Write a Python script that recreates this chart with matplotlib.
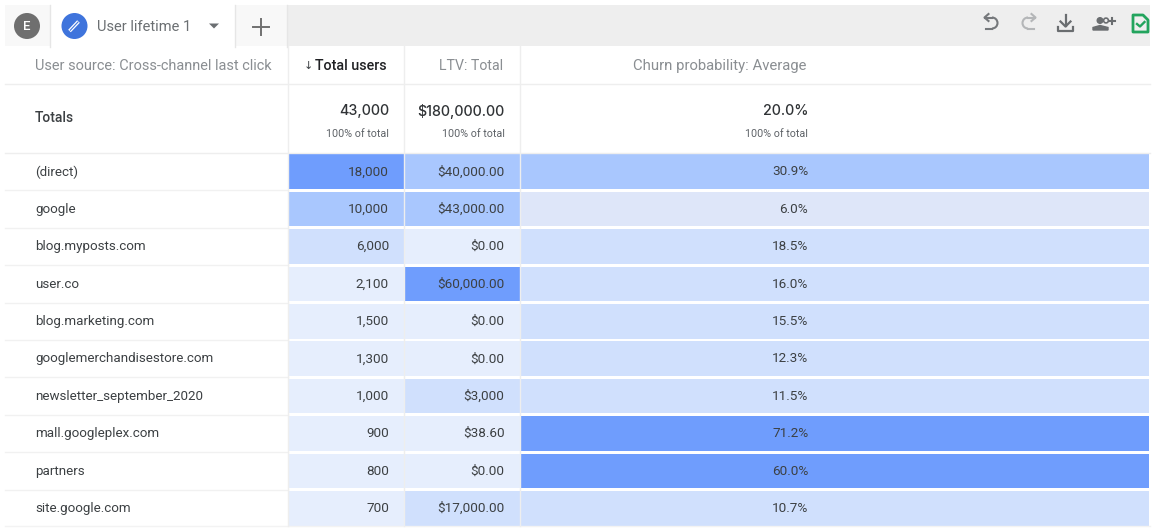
import matplotlib
matplotlib.use("Agg")
import matplotlib.pyplot as plt
from matplotlib.patches import Rectangle, Circle, Polygon, Arc

plt.rcParams['font.family'] = ['Roboto', 'DejaVu Sans']

# ---- data ----
sources = ["(direct)", "google", "blog.myposts.com", "user.co", "blog.marketing.com",
           "googlemerchandisestore.com", "newsletter_september_2020",
           "mall.googleplex.com", "partners", "site.google.com"]
total_users = ["18,000", "10,000", "6,000", "2,100", "1,500", "1,300", "1,000", "900", "800", "700"]
ltv = ["$40,000.00", "$43,000.00", "$0.00", "$60,000.00", "$0.00", "$0.00", "$3,000",
       "$38.60", "$0.00", "$17,000.00"]
churn = ["30.9%", "6.0%", "18.5%", "16.0%", "15.5%", "12.3%", "11.5%", "71.2%", "60.0%", "10.7%"]
users_level = [4, 3, 2, 1, 1, 1, 1, 1, 1, 1]
ltv_level = [3, 3, 1, 4, 1, 1, 2, 1, 1, 2]
churn_level = [3, 0, 2, 2, 2, 2, 2, 4, 4, 2]
headers = ["User source: Cross-channel last click", "Total users", "LTV: Total", "Churn probability: Average"]
totals = ["43,000", "$180,000.00", "20.0%"]
share = "100% of total"
tab_title = "User lifetime 1"
palette = {0: "#dee6f9", 1: "#e6eefd", 2: "#d0e0fd", 3: "#a9c7fe", 4: "#6f9dfd"}

fig = plt.figure(figsize=(11.6, 5.31), dpi=100, facecolor="white")
ax = fig.add_axes([0, 0, 1, 1])
ax.set_xlim(0, 1160)
ax.set_ylim(531, 0)
ax.axis("off")

GRID = "#eeeeee"
DARK = "#3c4043"
GREY = "#8a8e92"
ICON = "#6a6d70"
ROW_TOP, ROW_STEP, ROW_H = 154.4, 37.4, 34.6
COLS = [(288.8, 114.7, 389), (404.8, 114.7, 504.5), (521.3, 628, 808.3)]

# tab bar
ax.add_patch(Rectangle((5, 5), 45, 41, fc="#f8f8f8", ec="none"))
ax.add_patch(Rectangle((235, 5), 52, 41, fc="#f8f8f8", ec="none"))
ax.add_patch(Rectangle((287, 5), 863, 41, fc="#eeeeee", ec="none"))
for x in (49.8, 234.8, 286.5):
    ax.plot([x, x], [5, 47], color="#e6e6e6", lw=1)
ax.add_patch(Circle((27, 26), 13, fc="#6f6f6f", ec="none"))
ax.text(27, 26.3, "E", color="white", fontsize=9.5, ha="center", va="center", fontweight="medium")
ax.add_patch(Circle((74.5, 26), 13, fc="#3f74dc", ec="none"))
ax.plot([69.5, 78.5], [31, 21.5], color="white", lw=2.6, solid_capstyle="butt")
ax.plot([70.3, 78], [30.2, 22], color="#3f74dc", lw=0.8)
ax.text(97, 27.3, tab_title, color="#6b6f72", fontsize=10.5, ha="left", va="center")
ax.add_patch(Polygon([[209, 23.5], [219, 23.5], [214, 28.5]], fc="#6b6f72", ec="none"))
ax.plot([260.5, 260.5], [19, 35], color="#707070", lw=1.4)
ax.plot([252.5, 268.5], [27, 27], color="#707070", lw=1.4)

# toolbar icons
def undo(cx, col, flip):
    s = -1 if flip else 1
    ax.add_patch(Arc((cx, 23), 11, 11, theta1=-90 if not flip else 90, theta2=90 if not flip else 270,
                     color=col, lw=1.5))
    ax.plot([cx - s * 7, cx], [17.5, 17.5], color=col, lw=1.5)
    ax.plot([cx, cx - s * 6], [28.5, 28.5], color=col, lw=1.5)
    ax.plot([cx - s * 3.5, cx - s * 7.5, cx - s * 3.5], [14, 17.5, 21], color=col, lw=1.5)
undo(992, "#75787b", False)
undo(1028, "#b4b6b8", True)
ax.plot([1065.5, 1065.5], [15, 26], color=ICON, lw=1.6)
ax.plot([1060.5, 1065.5, 1070.5], [21.5, 26.5, 21.5], color=ICON, lw=1.6)
ax.plot([1058, 1058, 1073, 1073], [27, 31, 31, 27], color=ICON, lw=1.6)
ax.add_patch(Circle((1100, 20.5), 2.8, fc=ICON, ec=ICON, lw=1))
ax.add_patch(Circle((1106, 20.5), 2.4, fc="none", ec=ICON, lw=1.2))
ax.add_patch(Polygon([[1093, 30], [1093, 27.5], [1100, 25.5], [1108, 27.5], [1108, 30]], fc=ICON, ec=ICON, lw=1))
ax.plot([1109, 1115], [20.5, 20.5], color=ICON, lw=1.5)
ax.plot([1112, 1112], [17.5, 23.5], color=ICON, lw=1.5)
ax.add_patch(Polygon([[1133, 15], [1143, 15], [1148, 20], [1148, 32], [1133, 32]], fc="none", ec="#22a45d", lw=2, joinstyle="round"))
ax.plot([1137, 1140, 1144.5], [24, 26.5, 22], color="#22a45d", lw=1.7)

# grid lines
for y in (84, 152.5):
    ax.plot([5, 1150], [y, y], color=GRID, lw=1)
for i in range(1, len(sources)):
    y = ROW_TOP + ROW_STEP * i - 1.5
    ax.plot([5, 288], [y, y], color="#f1f1f1", lw=1)
ax.plot([5, 1150], [525.5, 525.5], color="#f3f3f3", lw=1)
for x in (288, 404, 520):
    ax.plot([x, x], [46, 526], color=GRID, lw=1)

# header
ax.text(35, 65.8, headers[0], color=GREY, fontsize=10.45, ha="left", va="center")
ax.text(387, 65.8, headers[1], color="#202124", fontsize=10.3, ha="right", va="center", fontweight="medium")
ax.text(308.5, 65.8, "\u2193", color=DARK, fontsize=8, ha="center", va="center", family=["DejaVu Sans"])
ax.text(503.5, 65.8, headers[2], color=GREY, fontsize=10.2, ha="right", va="center")
ax.text(806.5, 65.8, headers[3], color=GREY, fontsize=10.75, ha="right", va="center")

# totals
ax.text(35, 118.3, "Totals", color=DARK, fontsize=10, ha="left", va="center", fontweight="medium")
for (x0, w, xr), t in zip(COLS, totals):
    ax.text(xr, 111.2, t, color="#303336", fontsize=10.3, ha="right", va="center", family=["Inter"], fontweight="medium")
    ax.text(xr, 133.8, share, color="#5f6368", fontsize=7.75, ha="right", va="center")

# rows
for i, src in enumerate(sources):
    top = ROW_TOP + ROW_STEP * i
    mid = top + ROW_H / 2 + 0.2
    ax.text(35, mid, src, color=DARK, fontsize=9.6, ha="left", va="center")
    for (x0, w, xr), lev, val in zip(COLS[:2], (users_level[i], ltv_level[i]), (total_users[i], ltv[i])):
        ax.add_patch(Rectangle((x0, top), w, ROW_H, fc=palette[lev], ec="none"))
        ax.text(xr, mid, val, color=DARK, fontsize=9.7, ha="right", va="center")
    x0, w, xr = COLS[2]
    ax.add_patch(Rectangle((x0, top), w, ROW_H, fc=palette[churn_level[i]], ec="none"))
    ax.text(xr, mid, churn[i], color=DARK, fontsize=9.7, ha="right", va="center")

fig.savefig("out.png", dpi=100, facecolor="white")
